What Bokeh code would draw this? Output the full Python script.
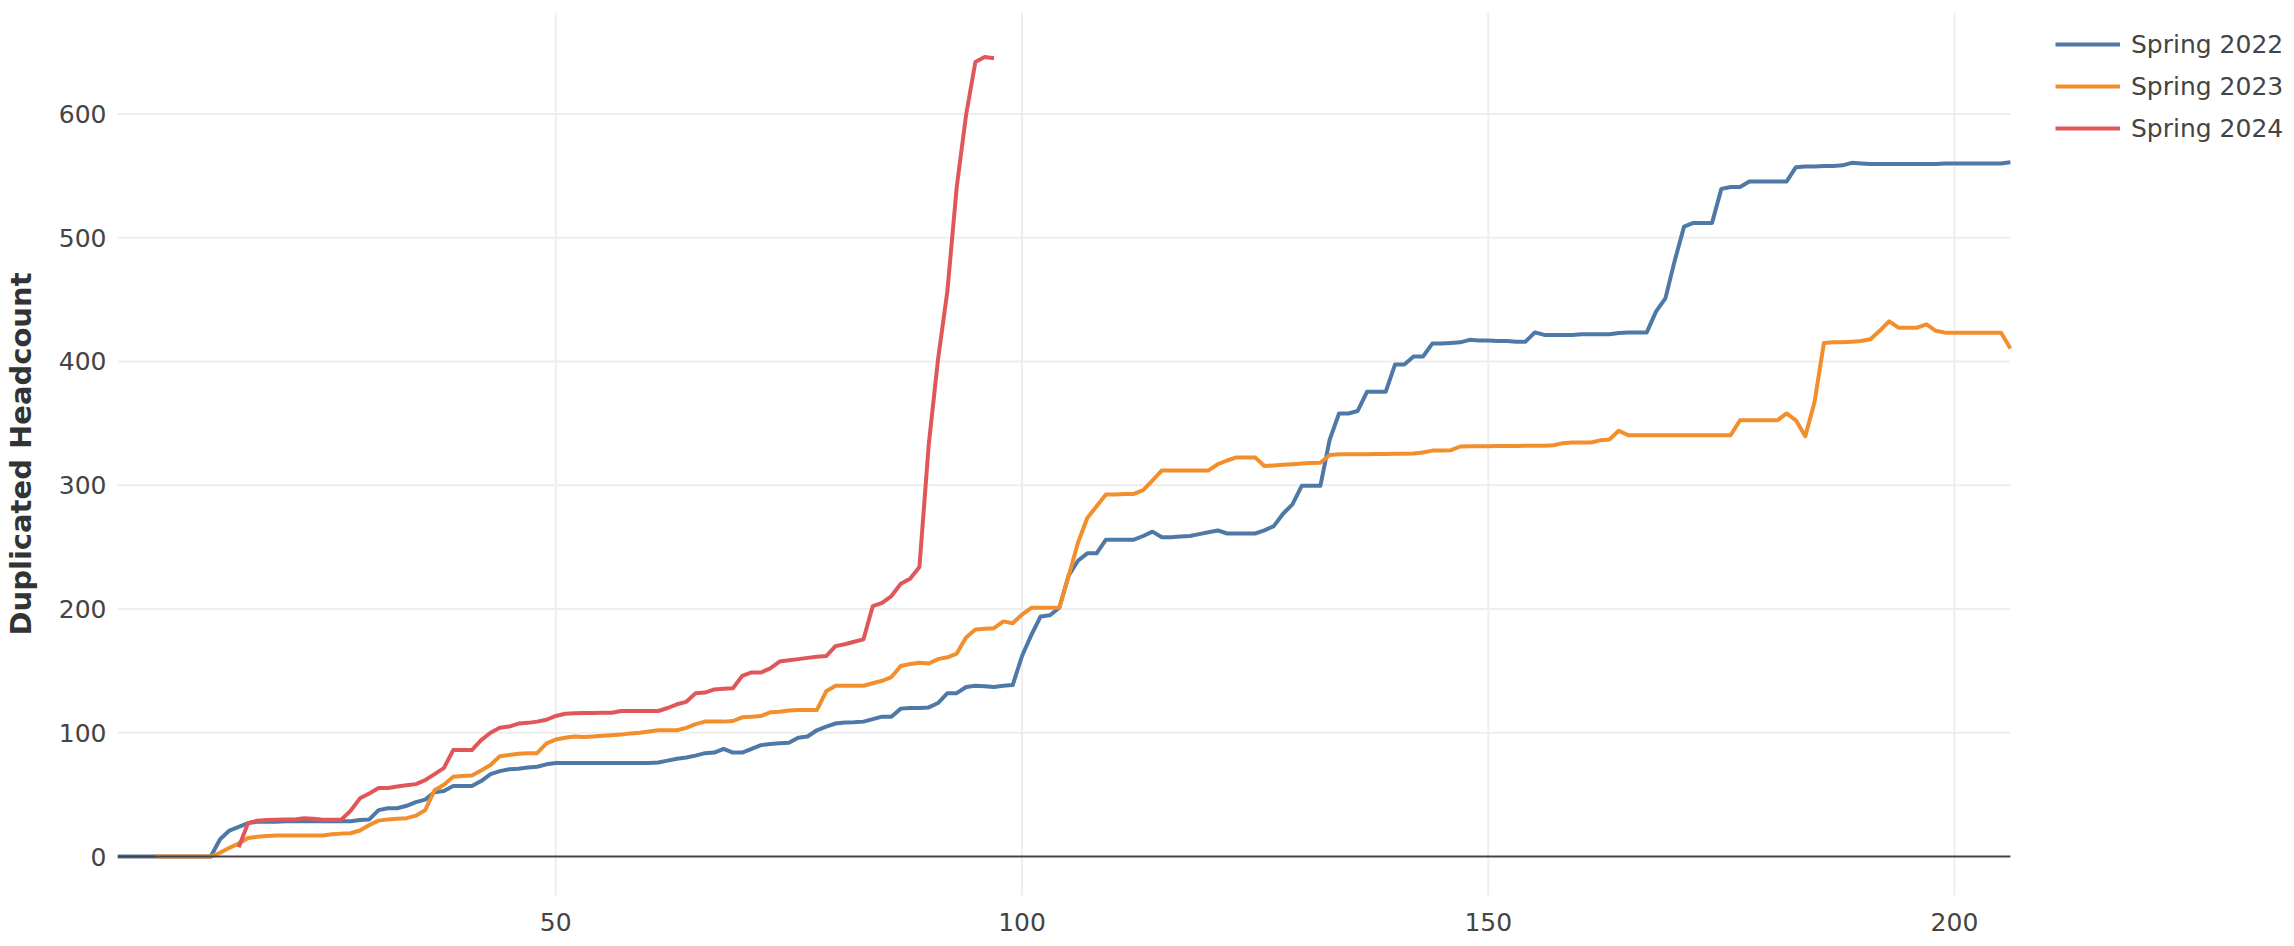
from bokeh.plotting import figure
from bokeh.models import FixedTicker, Legend, LegendItem, Range1d
from bokeh.embed import file_html
from bokeh.resources import INLINE

# ---- data ----
series_names = ["Spring 2022", "Spring 2023", "Spring 2024"]
series_colors = ["#4e79a7", "#f28e2b", "#e15759"]

start_2022 = 3
vals_2022 = [
    0, 0, 0, 0, 0, 0, 0, 0, 0, 0, 0,                                   # 3-13
    14, 21, 24, 27, 28, 28, 28, 28.5, 28.5, 28.5, 28.5, 28.5, 28.5, 28.5, 28.5, 29.5, 30,  # 14-30
    37.5, 39, 39, 41, 44, 46, 52, 53, 57, 57, 57, 61, 66.5, 69, 70.5, 71, 72, 72.5, 74.5, 75.5,  # 31-50
    75.5, 75.5, 75.5, 75.5, 75.5, 75.5, 75.5, 75.5, 75.5, 75.5, 76, 77.5, 79, 80, 81.5, 83.5, 84, 87, 84, 84,  # 51-70
    87, 90, 91, 91.5, 92, 96, 97, 102, 105, 107.5, 108.3, 108.5, 109, 111, 113, 113, 119.5, 120, 120, 120.5,  # 71-90
    124, 132, 132, 137, 138, 137.5, 137, 138, 138.5, 162, 179, 194, 195, 201, 227, 239, 245, 245, 256, 256,  # 91-110
    256, 256, 259, 262.5, 258, 258, 258.5, 259, 260.5, 262, 263.5, 261, 261, 261, 261, 263.5, 267, 277, 284.5, 299.5,  # 111-130
    299.5, 299.5, 337, 358, 358, 360, 375.5, 375.5, 375.5, 397.5, 397.5, 404, 404, 414.5, 414.5, 415, 415.5, 417.5, 417, 417,  # 131-150
    416.5, 416.5, 416, 416, 423.5, 421.5, 421.5, 421.5, 421.5, 422, 422, 422, 422, 423, 423.5, 423.5, 423.5, 440.5, 451, 481.5,  # 151-170
    509, 512, 512, 512, 539.5, 541, 541, 545.5, 545.5, 545.5, 545.5, 545.5, 557, 557.5, 557.5, 558, 558, 558.5, 560.5, 560,  # 171-190
    559.5, 559.5, 559.5, 559.5, 559.5, 559.5, 559.5, 559.5, 560, 560, 560, 560, 560, 560, 560, 561,  # 191-206
]

start_2023 = 7
vals_2023 = [
    0, 0, 0, 0, 0, 0, 0,                                               # 7-13
    3, 7, 10.5, 15, 16, 16.5, 17, 17, 17, 17, 17, 17, 18, 18.5, 18.8, 21, 25.5,  # 14-30
    29, 30, 30.5, 31, 33, 37.5, 53.5, 58, 64.5, 65, 65.5, 69.5, 74, 81, 82, 83, 83.5, 83.5, 91.5, 94.5,  # 31-50
    96, 97, 96.5, 97, 97.5, 98, 98.5, 99.5, 100, 101, 102, 102, 102, 104, 107, 109, 109, 109, 109.5, 112.5,  # 51-70
    113, 113.5, 116.5, 117, 118, 118.3, 118.3, 118.3, 133.5, 138, 138, 138, 138, 140, 142, 145, 154, 155.5, 156.5, 156,  # 71-90
    159.5, 161, 164, 177, 183.5, 184, 184.5, 190, 188.5, 195.5, 201, 201, 201, 201, 226.5, 253.5, 273.5, 283, 292.5, 292.5,  # 91-110
    293, 293, 296, 304, 312, 312, 312, 312, 312, 312, 317, 320, 322.5, 322.5, 322.5, 315.5, 316, 316.5, 317, 317.5,  # 111-130
    318, 318.2, 324.5, 325, 325, 325, 325, 325.2, 325.3, 325.4, 325.5, 325.6, 326.5, 328, 328, 328.3, 331.3, 331.5, 331.5, 331.6,  # 131-150
    331.7, 331.8, 331.8, 331.9, 332, 332, 332.3, 334, 334.5, 334.5, 334.5, 336.3, 337, 344, 340.5, 340.5, 340.5, 340.5, 340.5, 340.5,  # 151-170
    340.5, 340.5, 340.5, 340.5, 340.5, 340.5, 352.5, 352.5, 352.5, 352.5, 352.5, 358, 352.5, 339.5, 367.5, 415, 415.5, 415.5, 416, 416.5,  # 171-190
    418, 425, 432.5, 427.3, 427.3, 427.3, 430, 424.8, 423.3, 423.3, 423.3, 423.3, 423.3, 423.3, 423.3, 410.5,  # 191-206
]

start_2024 = 16
vals_2024 = [
    7.5, 27, 29, 29.5, 29.7, 30, 30, 31, 30.5, 29.8, 29.8, 29.8, 37, 47, 51,  # 16-30
    55.3, 55.3, 56.5, 57.5, 58.5, 61.7, 66.6, 71.4, 86, 86, 86, 94, 100, 104, 105, 107.4, 108, 109, 110.5, 113.6,  # 31-50
    115.4, 115.7, 115.9, 116, 116.1, 116.2, 117.6, 117.6, 117.6, 117.6, 117.6, 120, 123, 125, 132, 132.5, 135, 135.5, 136, 146,  # 51-70
    148.7, 148.7, 152, 157.5, 158.6, 159.5, 160.5, 161.5, 162, 170, 171.5, 173.5, 175.5, 202.4, 205, 210.5, 220.4, 224.5, 234, 333,  # 71-90
    402, 457, 541, 599, 642, 646, 645,  # 91-97
]

x_ticks = [50, 100, 150, 200]
y_ticks = [0, 100, 200, 300, 400, 500, 600]
y_title = "Duplicated Headcount"

FONT = "DejaVu Sans"
GRID = "#eeeeee"

starts = [start_2022, start_2023, start_2024]
values = [vals_2022, vals_2023, vals_2024]
x_lo = min(starts)
x_hi = max(s + len(v) - 1 for s, v in zip(starts, values))
y_lo, y_hi = -31.5, 682

# frame spans the whole right side so that the legend (drawn inside the frame) is visible;
# the data area (x_lo..x_hi) occupies the same pixels as the reference's plot area.
W, H = 2294, 946
left_px, data_right_px = 113, 2009.4
px_per_day = (data_right_px - left_px) / (x_hi - x_lo)
x_end = x_lo + (W - left_px) / px_per_day

p = figure(
    width=W, height=H,
    output_backend="svg", toolbar_location=None,
    x_range=Range1d(x_lo, x_end), y_range=Range1d(y_lo, y_hi),
    min_border_left=left_px, min_border_right=0, min_border_top=12, min_border_bottom=51,
)
p.outline_line_color = None
p.background_fill_color = "white"
p.border_fill_color = "white"
p.xgrid.grid_line_color = None
p.ygrid.grid_line_color = None

for ax in (p.xaxis[0], p.yaxis[0]):
    ax.axis_line_color = None
    ax.major_tick_line_color = None
    ax.minor_tick_line_color = None
    ax.major_tick_out = 0
    ax.major_tick_in = 0
    ax.major_label_text_font = FONT
    ax.major_label_text_color = "#444444"
    ax.major_label_text_font_size = "25px"

p.xaxis.ticker = FixedTicker(ticks=x_ticks)
p.yaxis.ticker = FixedTicker(ticks=y_ticks)
p.xaxis.major_label_standoff = 17
p.yaxis.major_label_standoff = 11
p.yaxis.axis_label = y_title
p.yaxis.axis_label_text_font = FONT
p.yaxis.axis_label_text_font_style = "bold"
p.yaxis.axis_label_text_font_size = "29px"
p.yaxis.axis_label_text_color = "#333333"
p.yaxis.axis_label_standoff = 18

# grid lines limited to the data area (like the reference's plot area)
p.segment(x0=x_ticks, y0=[y_lo] * len(x_ticks), x1=x_ticks, y1=[y_hi] * len(x_ticks),
          line_color=GRID, line_width=2)
grid_y = [t for t in y_ticks if t != 0]
p.segment(x0=[x_lo] * len(grid_y), y0=grid_y, x1=[x_hi] * len(grid_y), y1=grid_y,
          line_color=GRID, line_width=2)

renderers = []
for name, color, start, vals in zip(series_names, series_colors, starts, values):
    days = list(range(start, start + len(vals)))
    r = p.line(days, vals, line_color=color, line_width=4, line_join="round")
    renderers.append((name, r))

# zero line
p.segment(x0=[x_lo], y0=[0], x1=[x_hi], y1=[0], line_color="#444444", line_width=2)

legend = Legend(
    items=[LegendItem(label=n, renderers=[r]) for n, r in renderers],
    location=(1938, 752),
    glyph_width=65, glyph_height=30, label_height=30,
    spacing=12, label_standoff=11, padding=0, margin=0,
    border_line_alpha=0, background_fill_alpha=0,
    label_text_font=FONT, label_text_font_size="25px", label_text_color="#444444",
)
p.add_layout(legend, "center")

open("out.html", "w").write(file_html(p, INLINE))
